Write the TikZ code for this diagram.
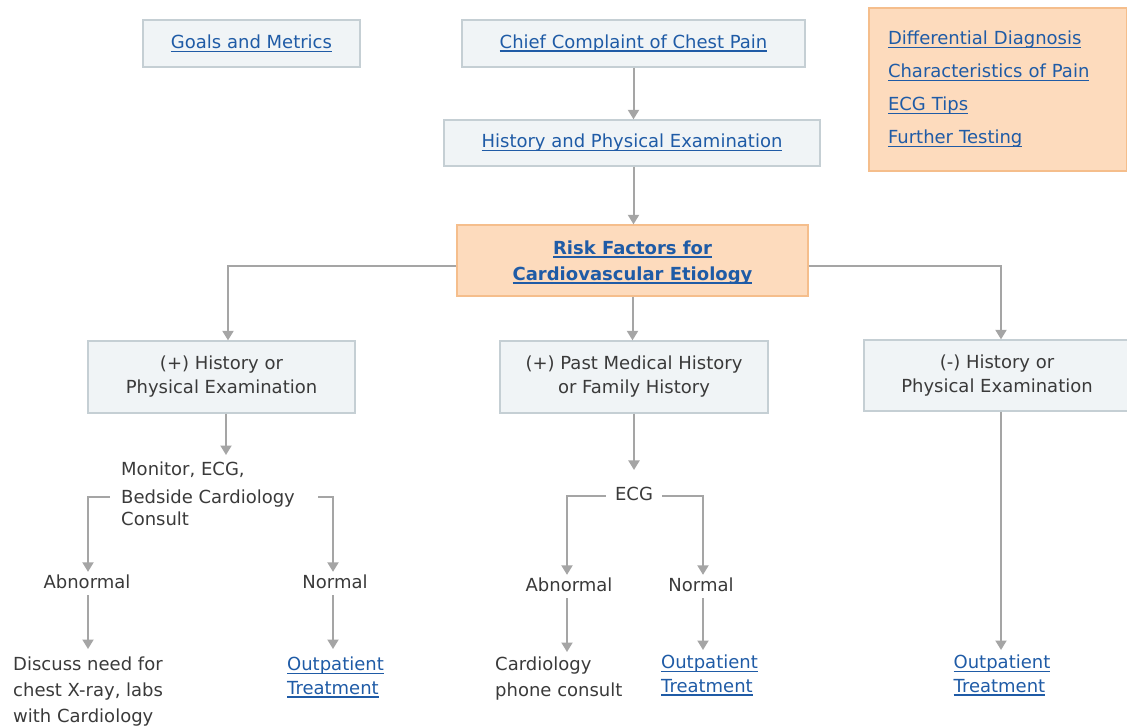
\documentclass[tikz,border=0pt]{standalone}
\usepackage{fontspec}
\setmainfont{DejaVu Sans}
\usetikzlibrary{arrows.meta}
\definecolor{linkblue}{HTML}{1F5BA6}
\definecolor{txt}{HTML}{3A3A3A}
\definecolor{boxfill}{HTML}{F0F4F6}
\definecolor{boxline}{HTML}{C5CFD4}
\definecolor{orfill}{HTML}{FDDBBD}
\definecolor{orline}{HTML}{F5BE8C}
\definecolor{argray}{HTML}{A5A5A5}
\newcommand\lk[1]{\leavevmode\begingroup\setbox0=\hbox{#1}\rlap{\rule[-3.2pt]{\wd0}{1.3pt}}\box0\endgroup}
\tikzset{
  base/.style={inner sep=0pt, font=\fontsize{18}{24}\selectfont, text=txt},
  gbox/.style={base, draw=boxline, fill=boxfill, line width=1.3pt, align=center},
  obox/.style={base, draw=orline, fill=orfill, line width=1.3pt, align=center},
  lnk/.style={text=linkblue},
  plain/.style={base, inner sep=3pt},
  arr/.style={draw=argray, line width=2pt, -{Triangle[width=11pt,length=9.5pt]}},
  ln/.style={draw=argray, line width=2pt}
}
\begin{document}
\begin{tikzpicture}[x=1pt,y=-1pt]
\useasboundingbox (0,0) rectangle (1127,728);
% top boxes
\node[gbox, lnk, minimum width=217pt, minimum height=47pt] (goals) at (251.5,43.5) {\lk{Goals and Metrics}};
\node[gbox, lnk, minimum width=343pt, minimum height=47pt] (chief) at (633.5,43.5) {\lk{Chief Complaint of Chest Pain}};
\node[gbox, lnk, minimum width=376pt, minimum height=46pt] (hpe) at (632,143) {\lk{History and Physical Examination}};
\node[obox, lnk, align=left, text width=220pt, inner xsep=19pt, minimum height=163pt,
      font=\fontsize{18}{33}\selectfont] (refs) at (998,89.5)
  {\lk{Differential Diagnosis}\\\lk{Characteristics of Pain}\\\lk{ECG Tips}\\\lk{Further Testing}};
\node[obox, lnk, minimum width=351pt, minimum height=71pt, font=\fontsize{18}{26}\selectfont\bfseries] (risk) at (632.5,260.5)
  {\lk{\rule{0pt}{18pt}Risk Factors for}\\\lk{Cardiovascular Etiology}};
% second level boxes
\node[gbox, minimum width=267pt, minimum height=72pt] (posh) at (221.5,377) {(+) History or\\Physical Examination};
\node[gbox, minimum width=268pt, minimum height=72pt] (pmh) at (634,377) {(+) Past Medical History\\or Family History};
\node[gbox, minimum width=266pt, minimum height=71pt] (negh) at (997,375.5) {(-) History or\\Physical Examination};
% left branch
\node[base, anchor=north west, align=left, font=\fontsize{18}{22}\selectfont] (mon) at (121,462)
  {Monitor, ECG,\\[6pt]Bedside Cardiology\\Consult};
\node[plain] (abn1) at (87,582) {Abnormal};
\node[plain] (nor1) at (335,582) {Normal};
\node[base, anchor=north west, align=left, font=\fontsize{18}{26}\selectfont] (disc) at (13,657)
  {Discuss need for\\chest X-ray, labs\\with Cardiology};
\node[base, lnk, anchor=north, align=left, font=\fontsize{18}{23.5}\selectfont] (op1) at (335.5,657)
  {\lk{Outpatient}\\\lk{Treatment}};
% middle branch
\node[base, inner xsep=9pt, inner ysep=3pt] (ecg) at (634,494) {ECG};
\node[plain] (abn2) at (569,585) {Abnormal};
\node[plain] (nor2) at (701,585) {Normal};
\node[base, anchor=north west, align=left, font=\fontsize{18}{26}\selectfont] (card) at (495,657)
  {Cardiology\\phone consult};
\node[base, lnk, anchor=north, align=left, font=\fontsize{18}{23.5}\selectfont] (op2) at (709.5,655)
  {\lk{Outpatient}\\\lk{Treatment}};
% right branch
\node[base, lnk, anchor=north, align=left, font=\fontsize{18}{23.5}\selectfont] (op3) at (1002,655)
  {\lk{Outpatient}\\\lk{Treatment}};
% connectors
\draw[arr] (chief.south) -- (chief.south |- hpe.north);
\draw[arr] (hpe.south -| chief.south) -- (chief.south |- risk.north);
\draw[arr] ([yshift=-5pt]risk.west) -| ([xshift=6.5pt]posh.north);
\draw[arr] (risk.south) -- (risk.south |- pmh.north);
\draw[arr] ([yshift=-5pt]risk.east) -| ([xshift=4pt]negh.north);
\draw[arr, shorten >=7pt] ([xshift=4.5pt]posh.south) -- ([xshift=4.5pt]posh.south |- mon.north);
\coordinate (mL) at (110,497);
\coordinate (mR) at (318,497);
\draw[arr] (mL) -| ([xshift=1pt]abn1.north);
\draw[arr] (mR) -| ([xshift=-2pt]nor1.north);
\draw[arr, shorten <=3pt, shorten >=8pt] ([xshift=1pt]abn1.south) -- ([xshift=1pt]abn1.south |- disc.north);
\draw[arr, shorten <=3pt, shorten >=8pt] ([xshift=-2pt]nor1.south) -- ([xshift=-2pt]nor1.south |- op1.north);
\draw[arr, shorten >=14pt] (pmh.south) -- (pmh.south |- ecg.north);
\draw[arr] ([yshift=-2pt]ecg.west) -| ([xshift=-2pt]abn2.north);
\draw[arr] ([yshift=-2pt]ecg.east) -| ([xshift=2pt]nor2.north);
\draw[arr, shorten <=3pt, shorten >=5pt] ([xshift=-2pt]abn2.south) -- ([xshift=-2pt]abn2.south |- card.north);
\draw[arr, shorten <=3pt, shorten >=5pt] ([xshift=2pt]nor2.south) -- ([xshift=2pt]nor2.south |- op2.north);
\draw[arr, shorten >=5pt] ([xshift=4pt]negh.south) -- ([xshift=4pt]negh.south |- op3.north);
\end{tikzpicture}
\end{document}
